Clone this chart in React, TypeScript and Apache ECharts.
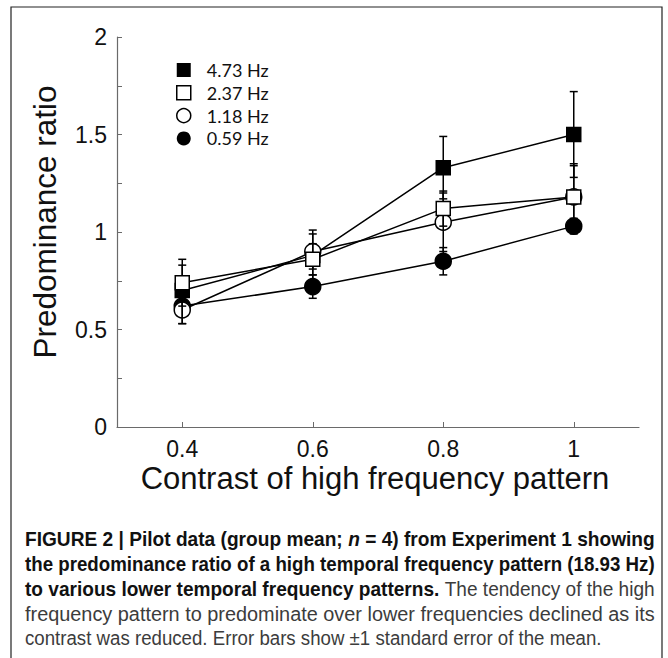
import React, { useEffect, useRef } from "react";
import * as echarts from "echarts";

const contrastValues = [0.4, 0.6, 0.8, 1];
const seriesNames = ["4.73 Hz", "2.37 Hz", "1.18 Hz", "0.59 Hz"];

const mean473 = [0.7, 0.88, 1.33, 1.5];
const se473 = [0.13, 0.13, 0.16, 0.22];
const mean237 = [0.74, 0.86, 1.12, 1.18];
const se237 = [0.12, 0.08, 0.09, 0.17];
const mean118 = [0.6, 0.9, 1.05, 1.18];
const se118 = [0.07, 0.09, 0.15, 0.16];
const mean059 = [0.62, 0.72, 0.85, 1.03];
const se059 = [0.09, 0.06, 0.07, 0.04];

const xTickValues = [0.4, 0.6, 0.8, 1];
const yTickLabels = ["0", "0.5", "1", "1.5", "2"];

const xAxisTitle = "Contrast of high frequency pattern";
const yAxisTitle = "Predominance ratio";

type Seg = { t: string; s: "b" | "bi" | "r" };
const captionLines: Seg[][] = [
  [
    { t: "FIGURE 2 | Pilot data (group mean; ", s: "b" },
    { t: "n", s: "bi" },
    { t: " = 4) from Experiment 1 showing", s: "b" },
  ],
  [{ t: "the predominance ratio of a high temporal frequency pattern (18.93 Hz)", s: "b" }],
  [
    { t: "to various lower temporal frequency patterns.", s: "b" },
    { t: " The tendency of the high", s: "r" },
  ],
  [{ t: "frequency pattern to predominate over lower frequencies declined as its", s: "r" }],
  [{ t: "contrast was reduced. Error bars show \u00b11 standard error of the mean.", s: "r" }],
];
const captionWidths = [630, 630, 630, 630, 577];

const CAP_FONT = "Liberation Sans";
const CAP_SIZE = 21;

function segFont(s: string) {
  if (s === "b") return `bold ${CAP_SIZE}px "${CAP_FONT}"`;
  if (s === "bi") return `italic bold ${CAP_SIZE}px "${CAP_FONT}"`;
  return `${CAP_SIZE}px "${CAP_FONT}"`;
}

function measureLine(line: Seg[]) {
  const c = document.createElement("canvas");
  const ctx = c.getContext("2d");
  if (!ctx) return 700;
  let w = 0;
  for (const seg of line) {
    ctx.font = segFont(seg.s);
    w += ctx.measureText(seg.t).width;
  }
  return w;
}

function errData(means: number[], ses: number[]) {
  return contrastValues.map((x, i) => [x, means[i] - ses[i], means[i] + ses[i]]);
}

function lineData(means: number[]) {
  return contrastValues.map((x, i) => [x, means[i]]);
}

const errRender = (params: any, api: any) => {
  const x = api.value(0);
  const lo = api.value(1);
  const hi = api.value(2);
  const p1 = api.coord([x, hi]);
  const p2 = api.coord([x, lo]);
  const cap = 4;
  const st = { stroke: "#000", lineWidth: 1.5 };
  return {
    type: "group",
    children: [
      { type: "line", shape: { x1: p1[0], y1: p1[1], x2: p2[0], y2: p2[1] }, style: st },
      { type: "line", shape: { x1: p1[0] - cap, y1: p1[1], x2: p1[0] + cap, y2: p1[1] }, style: st },
      { type: "line", shape: { x1: p2[0] - cap, y1: p2[1], x2: p2[0] + cap, y2: p2[1] }, style: st },
    ],
  };
};

export default function App() {
  const ref = useRef<HTMLDivElement>(null);
  useEffect(() => {
    if (!ref.current) return;
    const chart = echarts.init(ref.current, null, { renderer: "svg" });

    const axisColor = "#6a6a6a";
    const filled = { color: "#000", borderColor: "#000", borderWidth: 1.5 };
    const open = { color: "#fff", borderColor: "#000", borderWidth: 1.5 };
    const lineStyle = { color: "#000", width: 1.5 };

    const mkLine = (name: string, means: number[], symbol: string, size: number, item: any, z: number) => ({
      type: "line",
      name,
      data: lineData(means),
      symbol,
      symbolSize: size,
      showAllSymbol: true,
      itemStyle: item,
      lineStyle,
      z,
      silent: true,
    });
    const mkErr = (id: string, means: number[], ses: number[], z: number) => ({
      type: "custom",
      name: id,
      data: errData(means, ses),
      renderItem: errRender,
      encode: { x: 0, y: [1, 2] },
      z,
      silent: true,
    });

    const captionGraphics = captionLines.map((line, i) => {
      const w = measureLine(line);
      const sx = captionWidths[i] / w;
      const text = line.map((seg) => `{${seg.s}|${seg.t}}`).join("");
      return {
        type: "text",
        x: 25,
        y: 539 + i * 24.7,
        scaleX: sx,
        scaleY: 1,
        style: {
          text,
          textAlign: "left",
          textVerticalAlign: "middle",
          rich: {
            b: { fontFamily: CAP_FONT, fontWeight: "bold", fontSize: CAP_SIZE, fill: "#111" },
            bi: { fontFamily: CAP_FONT, fontWeight: "bold", fontStyle: "italic", fontSize: CAP_SIZE, fill: "#111" },
            r: { fontFamily: CAP_FONT, fontSize: CAP_SIZE, fill: "#3c3c3c" },
          },
        },
      };
    });

    chart.setOption({
      animation: false,
      backgroundColor: "#fff",
      grid: { left: 117, right: 29, top: 37, bottom: 231, containLabel: false, outerBoundsMode: "none" },
      legend: {
        orient: "vertical",
        left: 176,
        top: 61,
        padding: 0,
        itemWidth: 14,
        itemHeight: 14,
        itemGap: 4.8,
        selectedMode: false,
        textStyle: { fontFamily: "Lato", fontSize: 18, color: "#111", padding: [0, 0, 0, 11] },
        data: [
          { name: seriesNames[0], icon: "rect", itemStyle: { color: "#000", borderWidth: 0 } },
          { name: seriesNames[1], icon: "rect", itemStyle: { color: "#fff", borderColor: "#000", borderWidth: 1.5 } },
          { name: seriesNames[2], icon: "circle", itemStyle: { color: "#fff", borderColor: "#000", borderWidth: 1.5 } },
          { name: seriesNames[3], icon: "circle", itemStyle: { color: "#000", borderWidth: 0 } },
        ],
      },
      xAxis: {
        type: "value",
        min: 0.3,
        max: 1.1,
        axisLine: { onZero: false, lineStyle: { color: axisColor, width: 1.2 } },
        axisTick: { inside: true, length: 5, lineStyle: { color: axisColor }, customValues: xTickValues },
        axisLabel: {
          customValues: xTickValues,
          fontFamily: "Liberation Sans",
          fontSize: 23,
          color: "#111",
          margin: 10,
          formatter: (v: number) => String(v),
        },
        splitLine: { show: false },
      },
      yAxis: {
        type: "value",
        min: 0,
        max: 2,
        interval: 0.5,
        axisLine: { show: true, onZero: false, lineStyle: { color: axisColor, width: 1.2 } },
        axisTick: { show: true, inside: true, length: 5, lineStyle: { color: axisColor } },
        minorTick: { show: true, splitNumber: 2, length: 5, lineStyle: { color: axisColor } },
        axisLabel: {
          fontFamily: "Liberation Sans",
          fontSize: 23,
          color: "#111",
          margin: 10,
          formatter: (v: number) => yTickLabels[Math.round(v * 2)] ?? String(v),
        },
        splitLine: { show: false },
      },
      series: [
        mkErr("err473", mean473, se473, 1),
        mkLine(seriesNames[0], mean473, "rect", 14, filled, 2),
        mkLine(seriesNames[3], mean059, "circle", 16, filled, 3),
        mkLine(seriesNames[2], mean118, "circle", 16, open, 4),
        mkErr("err118", mean118, se118, 5),
        mkErr("err059", mean059, se059, 6),
        mkErr("err237", mean237, se237, 7),
        mkLine(seriesNames[1], mean237, "rect", 14, open, 8),
      ],
      graphic: [
        {
          type: "rect",
          shape: { x: 11, y: 7, width: 651, height: 700 },
          style: { fill: "none", stroke: "#222", lineWidth: 1.2 },
          silent: true,
        },
        {
          type: "text",
          x: 45,
          y: 222,
          rotation: Math.PI / 2,
          style: {
            text: yAxisTitle,
            fontFamily: "Liberation Sans",
            fontSize: 31.5,
            fill: "#111",
            textAlign: "center",
            textVerticalAlign: "middle",
          },
        },
        {
          type: "text",
          x: 375,
          y: 478,
          style: {
            text: xAxisTitle,
            fontFamily: "Liberation Sans",
            fontSize: 31,
            fill: "#111",
            textAlign: "center",
            textVerticalAlign: "middle",
          },
        },
        ...captionGraphics,
      ],
    });
    return () => chart.dispose();
  }, []);
  return (
    <div
      ref={ref}
      style={{ position: "fixed", left: 0, top: 0, width: 668, height: 658, background: "#fff" }}
    />
  );
}
